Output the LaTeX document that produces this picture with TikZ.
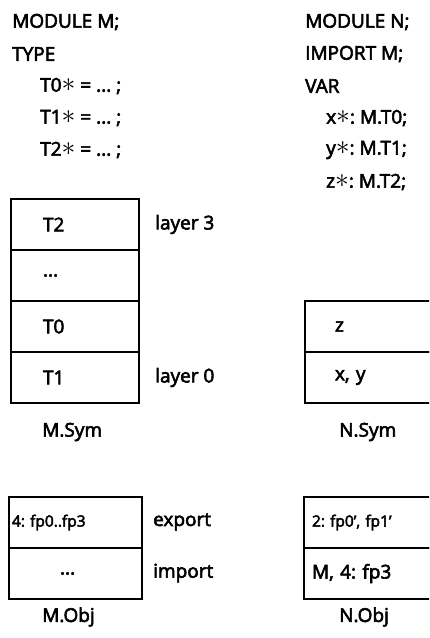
\documentclass[tikz,border=0pt]{standalone}
\usepackage{fontspec}
\setmainfont{Open Sans}[FakeBold=3]
\usepackage{tikz}
\usetikzlibrary{positioning}
\frenchspacing
\newcommand\exmark{\scalebox{1.6}{$\ast$}}
\tikzset{
    x=1pt,
    y=-1pt,
    every node/.style = {
        font=\fontsize{19}{21}\selectfont
    },
    code/.style = {
        anchor=west,
        inner sep=0pt
    },
    cell/.style = {
        draw,
        shape=rectangle,
        line width=1.8pt,
        minimum height=51pt,
        inner ysep=0pt,
        align=left,
        text width=#1
    },
    small/.style = {
        font=\fontsize{15.5}{17}\selectfont
    },
}

\begin{document}
\begin{tikzpicture}
            \useasboundingbox (0,0) rectangle (429,638);
            \clip (0,0) rectangle (429,638);

            \node[code] (modm) at (12,22) {MODULE M;};
            \node[code] (type) at (12,54) {TYPE};
            \node[code] (tzero) at (40,86) {T0\exmark{} = ... ;};
            \node[code] (tone) at (40,118) {T1\exmark{} = ... ;};
            \node[code] (ttwo) at (40,150) {T2\exmark{} = ... ;};

            \node[code] (modn) at (305,22) {MODULE N;};
            \node[code] (imp) at (305,54) {IMPORT M;};
            \node[code] (var) at (305,86) {VAR};
            \node[code] (xvar) at (326,118) {x\exmark: M.T0;};
            \node[code] (yvar) at (326,150) {y\exmark: M.T1;};
            \node[code] (zvar) at (326,182) {z\exmark: M.T2;};

            \node[cell=64pt, inner xsep=32pt] (msym3) at (75,224.5) {T2};
            \node[cell=64pt, inner xsep=32pt] (msymd) at (75,275.5) {...};
            \node[cell=64pt, inner xsep=32pt] (msym1) at (75,326.5) {T0};
            \node[cell=64pt, inner xsep=32pt] (msym0) at (75,377.5) {T1};
            \node[code] (layerhi) at (155,224.5) {layer 3};
            \node[code] (layerlo) at (155,377.5) {layer 0};
            \node[code] (msym) at (42,432) {M.Sym};

            \node[cell=90pt, inner xsep=30pt] (nsym1) at (380,326.5) {z};
            \node[cell=90pt, inner xsep=30pt] (nsym0) at (380,377.5) {x, y};
            \node[code] (nsym) at (339,432) {N.Sym};

            \node[cell=127pt, inner xsep=3pt, small] (mexp) at (75.5,522.5) {4: fp0..fp3};
            \node[cell=31pt, inner xsep=51pt] (mimp) at (75.5,573.5) {...};
            \node[code] (export) at (153,522) {export};
            \node[code] (import) at (153,573) {import};
            \node[code] (mobj) at (42,617) {M.Obj};

            \node[cell=134pt, inner xsep=8pt, small] (nexp) at (379,522.5) {2: fp0’, fp1’};
            \node[cell=134pt, inner xsep=8pt] (nimp) at (379,573.5) {M, 4: fp3};
            \node[code] (nobj) at (339,617) {N.Obj};
        \end{tikzpicture}
\end{document}
